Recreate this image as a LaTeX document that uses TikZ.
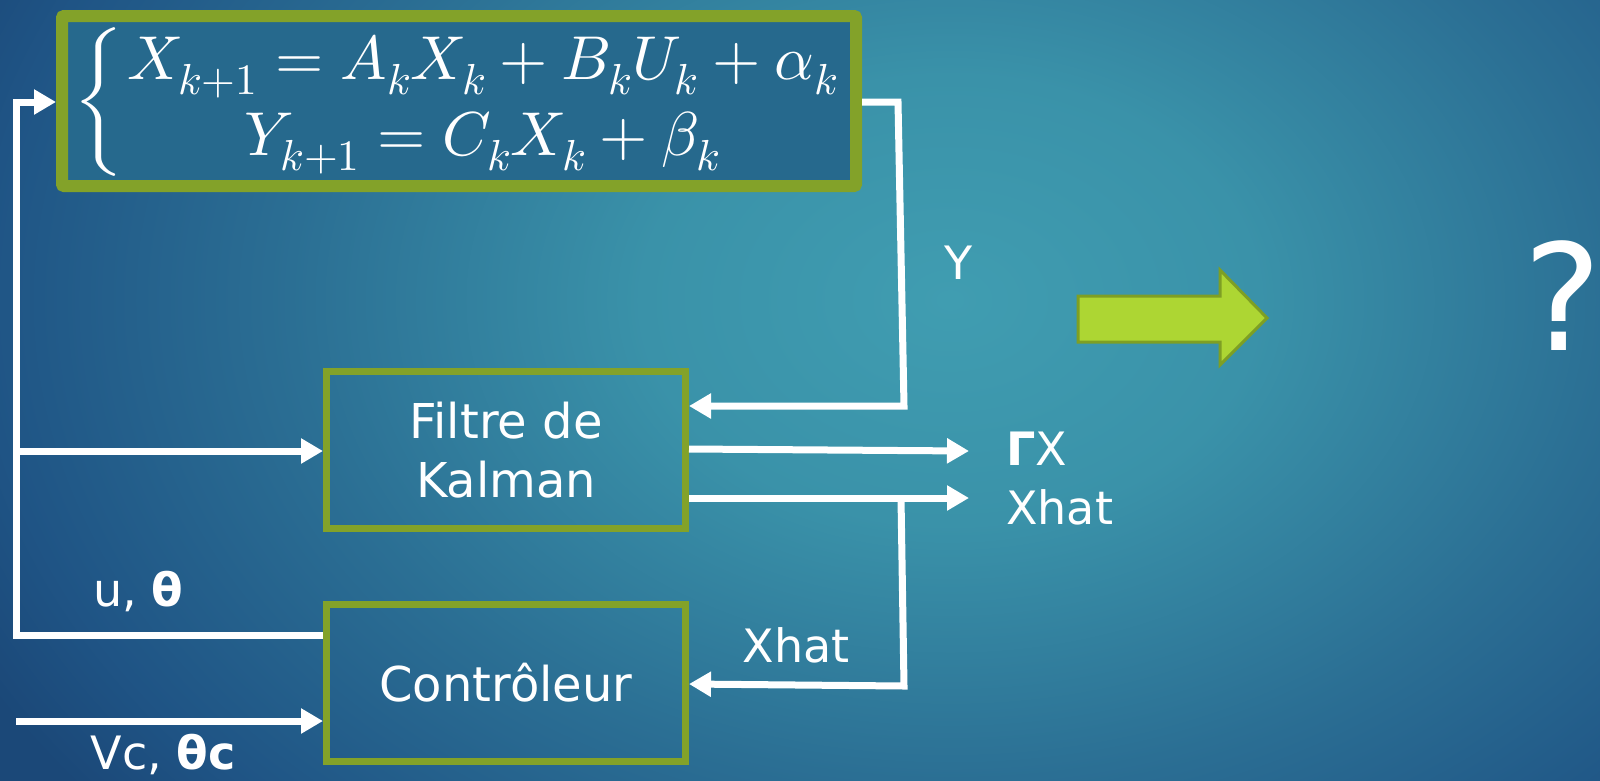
\documentclass[tikz,border=0pt]{standalone}
\usepackage{fontspec}
\usepackage{unicode-math}
\setmainfont{DejaVu Sans}
\setmathfont{Latin Modern Math}
\usetikzlibrary{arrows.meta}
\definecolor{bgA}{HTML}{409DB1}
\definecolor{bgB}{HTML}{3A92A9}
\definecolor{bgC}{HTML}{2B6F94}
\definecolor{bgD}{HTML}{1F5485}
\definecolor{bgE}{HTML}{1B4878}
\definecolor{boxgreen}{HTML}{83A229}
\definecolor{arrowfill}{HTML}{ADD633}
\definecolor{arrowline}{HTML}{7E9F24}
\definecolor{eqfill}{HTML}{26698D}
\pgfdeclareradialshading{bgshade}{\pgfpoint{0bp}{0bp}}{color(0bp)=(bgA); color(7bp)=(bgB); color(15bp)=(bgC); color(22bp)=(bgD); color(25bp)=(bgE); color(50bp)=(bgE)}
\begin{document}
\begin{tikzpicture}[x=1pt,y=-1pt,
  wire/.style={white,line width=7pt},
  arr/.style={wire,-{Triangle[length=22pt,width=24pt]}},
  blk/.style={draw=boxgreen,line width=7pt,minimum width=359pt,minimum height=157pt,align=center,text=white,font=\fontsize{48}{59}\selectfont},
  eqbox/.style={draw=boxgreen,line width=12pt,fill=eqfill,rounded corners=2pt,minimum width=794pt,minimum height=170pt},
  lbl/.style={text=white,font=\fontsize{46}{56}\selectfont,inner sep=0pt}]
\useasboundingbox (0,0) rectangle (1600,780);
\begin{scope}
\clip (0,0) rectangle (1600,780);
\shade[shading=bgshade] (-150,-500) rectangle (2050,1100);
\end{scope}
% boxes
\node[eqbox] (sys) at (459,101) {};
\node[text=white,font=\fontsize{62}{76}\selectfont,inner sep=0pt] (eq) at (460,102)
  {$\left\{\begin{array}{c} X_{k+1}=A_kX_k+B_kU_k+\alpha_k\\ Y_{k+1}=C_kX_k+\beta_k\end{array}\right.$};
\node[blk] (kf) at (506,450) {Filtre de\\Kalman};
\node[blk] (ctrl) at (506,683) {Contrôleur};
% coordinates
\coordinate (c1) at (16,635);
\coordinate (c2) at (16,102);
\coordinate (c3) at (16,451);
\coordinate (c4) at (16,721);
\coordinate (y1) at (898,102);
\coordinate (y2) at (904,406);
\coordinate (gx) at (969,451);
\coordinate (xh) at (969,498);
\coordinate (b1) at (901,498);
\coordinate (b2) at (904,686);
% connectors
\draw[arr] (ctrl.west |- c1) -- (c1) -- (c2) -- (sys.west |- c2);
\draw[arr] (c3) -- (kf.west |- c3);
\draw[arr] (c4) -- (ctrl.west |- c4);
\draw[arr] (sys.east |- y1) -- (y1) -- (y2) -- (kf.east |- y2);
\draw[arr] (kf.east |- 0,449) -- (gx);
\draw[arr] (kf.east |- xh) -- (xh);
\draw[arr] (b1) -- (b2) -- (ctrl.east |- 0,684);
% labels
\node[lbl] (ly) at (959,263) {Y};
\node[lbl,anchor=west] (lgx) at (1006,449) {\textbf{Γ}X};
\node[lbl,anchor=west] (lxh) at (1006,507) {Xhat};
\node[lbl] (lxh2) at (796,645) {Xhat};
\node[lbl] (lu) at (138,592) {u, \textbf{θ}};
\node[lbl] (lvc) at (163,755) {Vc, \textbf{θc}};
\node[text=white,font=\fontsize{148}{160}\selectfont,inner sep=0pt] (q) at (1563,296) {?};
% block arrow
\draw[draw=arrowline,fill=arrowfill,line width=3pt,line join=miter]
  (1078,296) -- (1220,296) -- (1220,270) -- (1267,318) -- (1220,365) -- (1220,342) -- (1078,342) -- cycle;
\end{tikzpicture}
\end{document}
